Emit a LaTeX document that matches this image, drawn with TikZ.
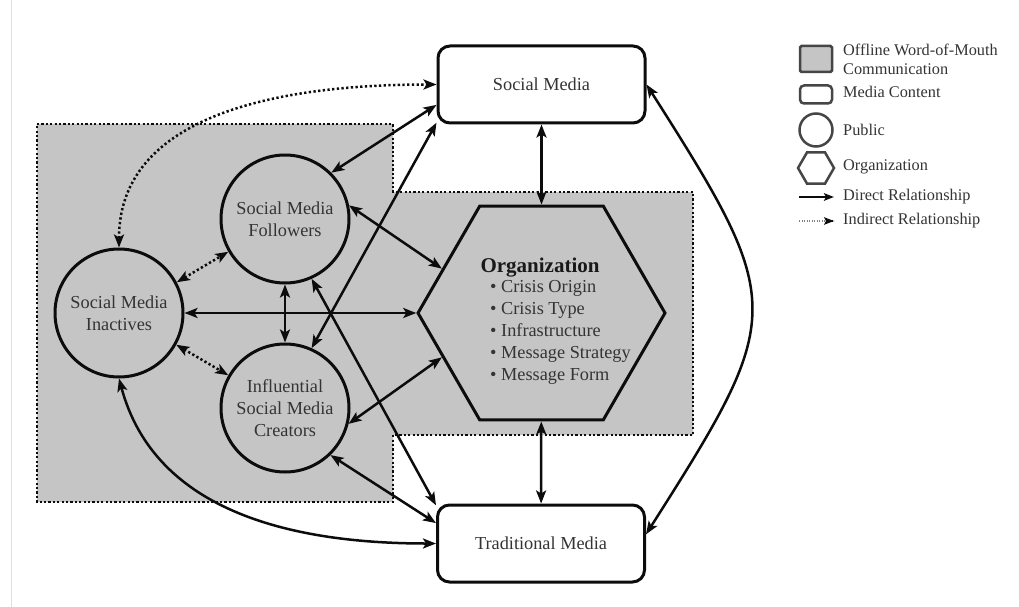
\documentclass[tikz,border=0pt]{standalone}
\usepackage{fontspec}
\setmainfont{Liberation Serif}
\usetikzlibrary{arrows.meta,shapes.geometric}
\definecolor{wom}{RGB}{197,197,197}
\definecolor{txt}{RGB}{52,52,52}
\definecolor{ln}{RGB}{12,12,12}
\definecolor{legline}{RGB}{70,70,70}
\begin{document}
\begin{tikzpicture}[x=1pt,y=-1pt,
  >={Stealth[length=13pt,width=10pt,inset=3pt]},
  mainfont/.style={font=\fontsize{18.3}{22}\selectfont, text=txt},
  media/.style={draw=ln, line width=3pt, rounded corners=12pt, fill=white, minimum width=207pt, minimum height=77pt, mainfont},
  public/.style={draw=ln, line width=3pt, circle, minimum size=128pt, inner sep=0pt, align=center, mainfont},
  orgshape/.style={draw=ln, line width=3pt, regular polygon, regular polygon sides=6, minimum size=247pt, inner sep=0pt},
  rel/.style={line width=2.5pt, draw=ln, <->},
  irel/.style={rel, dash pattern=on 2.3pt off 2.4pt},
  zone/.style={fill=wom, draw=ln, line width=2.6pt, dash pattern=on 2.2pt off 2.2pt},
  legtext/.style={font=\fontsize{16.3}{19}\selectfont, text=txt, anchor=west, align=left, inner sep=0pt},
  legshape/.style={draw=legline, line width=2.5pt, inner sep=0pt},
]
\useasboundingbox (0,0) rectangle (1019,607);
\fill[white] (0,0) rectangle (1019,607);
\draw[gray!25, line width=1pt] (11,0) -- (11,607);

% offline word-of-mouth zone
\draw[zone] (37,124) -- (393,124) -- (393,192) -- (693,192) -- (693,435) -- (393,435) -- (393,502) -- (37,502) -- cycle;

% media
\node[media] (sm) at (541.5,84.5) {Social Media};
\node[media] (tm) at (541,543.5) {Traditional Media};

% organization
\node[orgshape, fill=wom] (org) at (541.5,313) {};
\node[font=\fontsize{21}{24}\selectfont\bfseries, text=black!90, inner sep=0pt] (orgt) at (540,267.5) {Organization};
\node[mainfont, anchor=north west, align=left, inner sep=0pt] (orgl) at (490,280) {\textbullet\ Crisis Origin\\\textbullet\ Crisis Type\\\textbullet\ Infrastructure\\\textbullet\ Message Strategy\\\textbullet\ Message Form};

% publics
\node[public] (fol) at (285,219) {Social Media\\Followers};
\node[public] (ina) at (119,313) {Social Media\\Inactives};
\node[public] (cre) at (285,408) {Influential\\Social Media\\Creators};

% relationships
\draw[rel] (sm) -- (org);
\draw[rel] (org) -- (tm);
\draw[rel] (ina) -- (org);
\draw[rel] (fol) -- (cre);
\draw[rel] (fol.12) -- (org.156);
\draw[rel] (cre.346) -- (org.204);
\draw[rel] (fol.45) -- (sm.191);
\draw[rel] (cre.66) -- (sm.200);
\draw[rel] (fol.294) -- (tm.160);
\draw[rel] (cre.314) -- (tm.169);
\draw[rel] (ina.south) to[out=-75,in=180] (tm.west);
\draw[rel] (sm.east) .. controls +(140,220) and +(140,-220) .. (tm.5);
\draw[irel] (ina.north) to[out=90,in=180] (sm.west);
\draw[irel] (ina.28) -- (fol.210);
\draw[irel] (ina.331) -- (cre.150);

% legend
\node[legshape, fill=wom, rounded corners=1.5pt, minimum width=32pt, minimum height=26pt] (lgwom) at (816,59) {};
\node[legtext] (lgwomt) at (843,59.5) {Offline Word-of-Mouth\\Communication};
\node[legshape, rounded corners=4pt, minimum width=32pt, minimum height=18pt] (lgmed) at (816,94.5) {};
\node[legtext] (lgmedt) at (843,92) {Media Content};
\node[legshape, circle, minimum size=33pt] (lgpub) at (816,130) {};
\node[legtext] (lgpubt) at (843,130) {Public};
\node[legshape, regular polygon, regular polygon sides=6, minimum size=36pt] (lgorg) at (816,168) {};
\node[legtext] (lgorgt) at (843,167) {Organization};
\coordinate (ld1) at (799,197);
\coordinate (ld2) at (834,197);
\draw[line width=2pt, draw=ln, -{Stealth[length=10pt,width=7.5pt,inset=2pt]}] (ld1) -- (ld2);
\node[legtext] (lgdir) at (843,197) {Direct Relationship};
\coordinate (li1) at (799,221);
\coordinate (li2) at (834,221);
\draw[line width=1.4pt, draw=gray, dash pattern=on 1.3pt off 1.2pt] (li1) -- (li2);
\draw[draw=ln, line width=1.4pt, -{Stealth[length=10pt,width=7.5pt,inset=2pt]}] ([xshift=-1pt]li2) -- (li2);
\node[legtext] (lgind) at (843,221) {Indirect Relationship};
\end{tikzpicture}
\end{document}
